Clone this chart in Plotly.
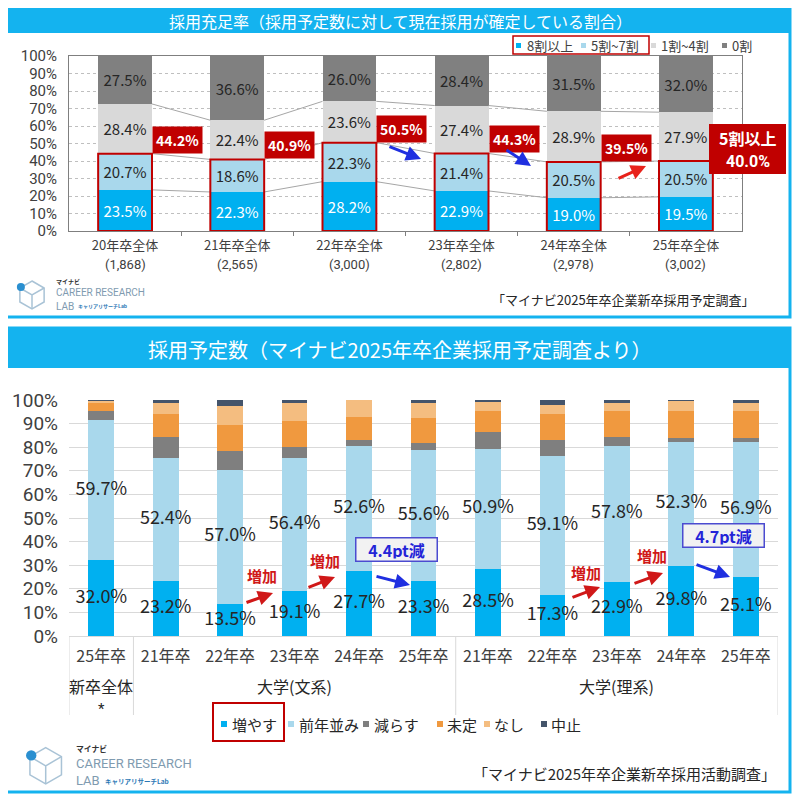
import math
import plotly.graph_objects as go

W = H = 800
OFF = 8  # the page body margin shifts the figure by 8 px
FONT = "Noto Sans CJK JP"
NUMFONT = "Roboto"
DARK = "#262626"

# ---------------- data: top chart (採用充足率) ----------------
top_cats = ["20年卒全体", "21年卒全体", "22年卒全体", "23年卒全体", "24年卒全体", "25年卒全体"]
top_n = ["(1,868)", "(2,565)", "(3,000)", "(2,802)", "(2,978)", "(3,002)"]
top_series = ["8割以上", "5割~7割", "1割~4割", "0割"]
s_80 = [23.5, 22.3, 28.2, 22.9, 19.0, 19.5]
s_50 = [20.7, 18.6, 22.3, 21.4, 20.5, 20.5]
s_10 = [28.4, 22.4, 23.6, 27.4, 28.9, 27.9]
s_00 = [27.5, 36.6, 26.0, 28.4, 31.5, 32.0]
top_colors = ["#00b0f0", "#a9d8ec", "#d9d9d9", "#808080"]
top_text_colors = ["white", DARK, DARK, DARK]

# ---------------- data: bottom chart (採用予定数) ----------------
bot_years = ["25年卒", "21年卒", "22年卒", "23年卒", "24年卒", "25年卒",
             "21年卒", "22年卒", "23年卒", "24年卒", "25年卒"]
bot_groups = ["新卒全体", "大学(文系)", "大学(理系)"]
bot_group_members = [[0], [1, 2, 3, 4, 5], [6, 7, 8, 9, 10]]
bot_series = ["増やす", "前年並み", "減らす", "未定", "なし", "中止"]
b_inc = [32.0, 23.2, 13.5, 19.1, 27.7, 23.3, 28.5, 17.3, 22.9, 29.8, 25.1]
b_same = [59.7, 52.4, 57.0, 56.4, 52.6, 55.6, 50.9, 59.1, 57.8, 52.3, 56.9]
b_dec = [3.8, 8.8, 8.0, 4.7, 2.8, 2.7, 6.9, 6.7, 3.5, 1.7, 1.8]
b_und = [3.3, 9.5, 10.9, 10.9, 9.8, 10.6, 9.2, 10.8, 11.1, 11.5, 11.5]
b_none = [1.0, 5.0, 8.2, 7.5, 7.1, 6.7, 3.7, 4.0, 3.6, 4.4, 3.3]
b_stop = [0.2, 1.1, 2.4, 1.4, 0.0, 1.1, 0.8, 2.1, 1.1, 0.3, 1.4]
bot_colors = ["#00b0f0", "#a9d8ec", "#7f7f7f", "#f0993f", "#f4bd80", "#44546a"]

# ---------------- geometry helpers (screen pixel -> paper) ----------------
def xp(x):
    return (x - OFF) / W


def yp(y):
    return 1 - (y - OFF) / H


TOP_L, TOP_R, TOP_T, TOP_B = 69, 742, 56, 231
BOT_L, BOT_R, BOT_T, BOT_B = 69, 778, 400, 636


def tx(x):  # screen pixel -> top data x
    return (x - TOP_L) / ((TOP_R - TOP_L) / 6) - 0.5


def ty(y):
    return (TOP_B - y) / ((TOP_B - TOP_T) / 100)


def bx(x):
    return (x - BOT_L) / ((BOT_R - BOT_L) / 11) - 0.5


def by(y):
    return (BOT_B - y) / ((BOT_B - BOT_T) / 100)


TW = 0.48  # top bar width
BW = 0.40  # bottom bar width

fig = go.Figure()

# ---------------- top bars ----------------
top_vals = [s_80, s_50, s_10, s_00]
xs_top = list(range(len(top_cats)))
for name, vals, col, tcol in zip(top_series, top_vals, top_colors, top_text_colors):
    fig.add_trace(go.Bar(
        x=xs_top, y=vals, name=name, width=TW, marker=dict(color=col, line=dict(width=0)),
        text=[f"{v:.1f}%" for v in vals], textposition="inside", insidetextanchor="middle",
        textangle=0, constraintext="none",
        textfont=dict(size=15, color=tcol, family=FONT),
        xaxis="x", yaxis="y", showlegend=False, hoverinfo="skip"))

# ---------------- bottom bars ----------------
bot_vals = [b_inc, b_same, b_dec, b_und, b_none, b_stop]
xs_bot = list(range(len(bot_years)))
for name, vals, col in zip(bot_series, bot_vals, bot_colors):
    fig.add_trace(go.Bar(
        x=xs_bot, y=vals, name=name, width=BW, marker=dict(color=col, line=dict(width=0)),
        xaxis="x2", yaxis="y2", showlegend=False, hoverinfo="skip"))

# bottom data labels (増やす, 前年並み) centred in segments
fig.add_trace(go.Scatter(
    x=xs_bot, y=[v / 2 for v in b_inc], mode="text",
    text=[f"{v:.1f}%" for v in b_inc], textfont=dict(size=18, color=DARK, family=FONT),
    xaxis="x2", yaxis="y2", showlegend=False, hoverinfo="skip", cliponaxis=False))
fig.add_trace(go.Scatter(
    x=xs_bot, y=[a + b / 2 for a, b in zip(b_inc, b_same)], mode="text",
    text=[f"{v:.1f}%" for v in b_same], textfont=dict(size=18, color=DARK, family=FONT),
    xaxis="x2", yaxis="y2", showlegend=False, hoverinfo="skip", cliponaxis=False))

shapes = []
ann = []


def ptext(text, x, y, size, color=DARK, xanchor="center", yanchor="middle", family=FONT):
    ann.append(dict(text=text, x=xp(x), y=yp(y), xref="paper", yref="paper",
                    xanchor=xanchor, yanchor=yanchor, showarrow=False,
                    font=dict(size=size, color=color, family=family)))


def prect(x0, y0, x1, y1, fill=None, line_color=None, line_width=0, layer="above"):
    d = dict(type="rect", xref="paper", yref="paper", x0=xp(x0), x1=xp(x1),
             y0=yp(y1), y1=yp(y0), layer=layer,
             line=dict(color=line_color or "rgba(0,0,0,0)", width=line_width))
    if fill:
        d["fillcolor"] = fill
    shapes.append(d)


# ---------------- panels ----------------
PANEL = "#14b3ef"
for (y0, y1, ybar) in [(4, 317, 33), (328, 792, 368)]:
    prect(5, y0, 790, ybar, fill=PANEL, layer="below")
    prect(5, y0, 790, y1, line_color=PANEL, line_width=3)

ptext("採用充足率（採用予定数に対して現在採用が確定している割合）", 400, 21, 16, "white")
ptext("採用予定数（マイナビ2025年卒企業採用予定調査より）", 400, 349, 20, "white")

# ---------------- top chart decorations ----------------
cum = []
run = [0] * 6
for vals in top_vals:
    run = [r + v for r, v in zip(run, vals)]
    cum.append(run[:])
# series connector lines
for k in range(3):
    for i in range(5):
        shapes.append(dict(type="line", xref="x", yref="y", x0=i + TW / 2, x1=i + 1 - TW / 2,
                           y0=cum[k][i], y1=cum[k][i + 1], line=dict(color="#a6a6a6", width=1)))
# sample sizes under the category names
for i, n in enumerate(top_n):
    ann.append(dict(text=n, x=i, y=yp(264), xref="x", yref="paper", xanchor="center",
                    yanchor="middle", showarrow=False,
                    font=dict(size=13, color="#404040", family=NUMFONT)))
# red outline around 5割以上 portion and sum boxes
RED = "#c00000"
sums = [a + b for a, b in zip(s_80, s_50)]
for i, s in enumerate(sums):
    shapes.append(dict(type="rect", xref="x", yref="y", x0=i - TW / 2, x1=i + TW / 2, y0=0, y1=s,
                       line=dict(color=RED, width=2), layer="above"))
    if i < len(sums) - 1:
        ann.append(dict(text=f"<b>{s:.1f}%</b>", x=i + TW / 2, y=s, xref="x", yref="y",
                        xanchor="left", yanchor="bottom", showarrow=False, bgcolor=RED,
                        borderpad=3, font=dict(size=14, color="white", family=FONT)))
    else:
        prect(709, 124, 786, 174, fill=RED)
        ptext("<b>5割以上</b>", 747.5, 138, 16, "white")
        ptext(f"<b>{s:.1f}%</b>", 747.5, 161, 16, "white", family=NUMFONT)

# top arrows
for (x0, y0, x1, y1, col) in [(388, 146, 421, 159, "#1f2fe0"), (505, 149, 531, 166, "#1f2fe0"),
                              (617, 179, 646, 166, "#e8221b")]:
    ann.append(dict(x=tx(x1), y=ty(y1), ax=tx(x0), ay=ty(y0), xref="x", yref="y",
                    axref="x", ayref="y", text="", showarrow=True, arrowhead=2,
                    arrowsize=1, arrowwidth=3, arrowcolor=col))

# top legend (manual)
top_leg_pos = [(516, 525), (581, 589), (651, 659), (722, 730)]
for (sqx, tx0), name, col in zip(top_leg_pos, top_series, top_colors):
    prect(sqx, 43, sqx + 5, 48, fill=col)
    ptext(name, tx0, 45, 13, "#404040", xanchor="left")
prect(513, 36, 649, 54, line_color=RED, line_width=1.5)

# ---------------- bottom chart decorations ----------------
for xb in [-0.5, 0.5, 5.5, 10.5]:
    shapes.append(dict(type="line", xref="x2", yref="paper", x0=xb, x1=xb,
                       y0=yp(BOT_B), y1=yp(715), line=dict(color="#d9d9d9", width=1)))
for g, members in zip(bot_groups, bot_group_members):
    gx = sum(members) / len(members)
    ann.append(dict(text=g, x=gx, y=yp(686), xref="x2", yref="paper", xanchor="center",
                    yanchor="middle", showarrow=False, font=dict(size=16, color=DARK, family=FONT)))
ann.append(dict(text="*", x=0, y=yp(709), xref="x2", yref="paper", xanchor="center",
                yanchor="middle", showarrow=False, font=dict(size=15, color=DARK, family=NUMFONT)))

# bottom annotation boxes
BLUE = "#2424d8"
for (cx, cy, txt) in [(396, 549, "4.4pt減"), (723, 535, "4.7pt減")]:
    ann.append(dict(text=f"<b>{txt}</b>", x=bx(cx), y=by(cy), xref="x2", yref="y2",
                    xanchor="center", yanchor="middle",
                    showarrow=False, bgcolor="#f2f2f2", bordercolor="#4b4bd0", borderwidth=1.5,
                    width=76, height=18, borderpad=2,
                    font=dict(size=16, color=BLUE, family=FONT)))
for (cx, cy) in [(262, 575), (325, 560), (586, 572), (652, 555)]:
    ann.append(dict(text="<b>増加</b>", x=bx(cx), y=by(cy), xref="x2", yref="y2",
                    xanchor="center", yanchor="middle",
                    showarrow=False, font=dict(size=15, color="#d01818", family=FONT)))
for (x0, y0, x1, y1, col) in [(245, 603, 273, 593, "#d01818"), (307, 588, 335, 577, "#d01818"),
                              (571, 598, 600, 587, "#d01818"), (633, 584, 663, 573, "#d01818"),
                              (375, 576, 410, 585, "#1f2fe0"), (695, 564, 730, 577, "#1f2fe0")]:
    ann.append(dict(x=bx(x1), y=by(y1), ax=bx(x0), ay=by(y0), xref="x2", yref="y2",
                    axref="x2", ayref="y2", text="", showarrow=True, arrowhead=2,
                    arrowsize=1, arrowwidth=3, arrowcolor=col))

# bottom legend (manual)
bot_leg_pos = [(221, 230), (288, 297), (363, 372), (437, 445), (484, 492), (541, 549)]
for (sqx, tx0), name, col in zip(bot_leg_pos, bot_series, bot_colors):
    prect(sqx, 721, sqx + 6, 727, fill=col)
    ptext(name, tx0, 724, 15, DARK, xanchor="left")
prect(213, 703, 284, 741, line_color=RED, line_width=2)

# ---------------- sources ----------------
ptext("「マイナビ2025年卒企業新卒採用予定調査」", 757, 299, 13, DARK, xanchor="right")
ptext("「マイナビ2025年卒企業新卒採用活動調査」", 778, 773, 15, DARK, xanchor="right")


# ---------------- logos ----------------
def P(x, y):
    return f"{xp(x):.5f},{yp(y):.5f}"


def logo(x0, y0, s):
    cx, cy, r = x0 + 19 * s, y0 + 16 * s, 14 * s
    pts = [(cx + r * math.cos(math.radians(a)), cy - r * math.sin(math.radians(a)))
           for a in [90, 30, -30, -90, -150, 150]]
    path = "M" + " L".join(P(*p) for p in pts) + " Z"
    shapes.append(dict(type="path", xref="paper", yref="paper", path=path,
                       line=dict(color="#a9c3d6", width=1.5)))
    inner = f"M{P(*pts[5])} L{P(cx, cy)} L{P(*pts[1])} M{P(cx, cy)} L{P(*pts[3])}"
    shapes.append(dict(type="path", xref="paper", yref="paper", path=inner,
                       line=dict(color="#a9c3d6", width=1.5)))
    dx, dy = pts[5][0] + 1 * s, pts[5][1] - 1 * s
    shapes.append(dict(type="circle", xref="paper", yref="paper", x0=xp(dx - 4 * s), x1=xp(dx + 4 * s),
                       y0=yp(dy + 4 * s), y1=yp(dy - 4 * s), fillcolor="#2a8fd0", line=dict(width=0)))
    t0 = x0 + 41 * s
    ptext("<b>マイナビ</b>", t0, y0 + 2.5 * s, 6 * s, "#333333", xanchor="left")
    ptext("CAREER RESEARCH", t0, y0 + 14 * s, 10 * s, "#7f9bb0", xanchor="left", family="Roboto")
    ptext("LAB", t0, y0 + 27 * s, 10 * s, "#7f9bb0", xanchor="left", family="Roboto")
    ptext("<b>キャリアリサーチLab</b>", t0 + 22 * s, y0 + 27.5 * s, 5 * s, "#2b78b5", xanchor="left")


logo(13, 279, 1.0)
logo(21, 745, 1.3)

# ---------------- layout ----------------
axis_font = dict(color="#404040")
fig.update_layout(
    width=W, height=H, margin=dict(l=0, r=0, t=0, b=0, pad=0, autoexpand=False),
    paper_bgcolor="white", plot_bgcolor="white", barmode="stack", showlegend=False,
    font=dict(family=FONT, color=DARK),
    xaxis=dict(domain=[xp(TOP_L), xp(TOP_R)], anchor="y", range=[-0.5, 5.5], automargin=False,
               tickmode="array", tickvals=xs_top, ticktext=top_cats,
               tickfont=dict(size=13, family=FONT, **axis_font), ticks="", showgrid=False,
               zeroline=False, showline=True, mirror=True, linecolor="#7f7f7f", linewidth=1,
               minor=dict(tickmode="array", tickvals=[i + 0.5 for i in range(5)], ticks="outside",
                          ticklen=4, tickcolor="#7f7f7f", showgrid=False),
               ticklabelstandoff=2, fixedrange=True),
    yaxis=dict(domain=[yp(TOP_B), yp(TOP_T)], anchor="x", range=[0, 100], dtick=10, automargin=False,
               ticksuffix="%", tickfont=dict(size=15, family=NUMFONT, **axis_font), showgrid=True,
               gridcolor="#bfbfbf", griddash="dot", zeroline=False, showline=True, mirror=True,
               linecolor="#7f7f7f", linewidth=1, ticklabelstandoff=8, fixedrange=True),
    xaxis2=dict(domain=[xp(BOT_L), xp(BOT_R)], anchor="y2", range=[-0.5, 10.5], automargin=False,
                tickmode="array", tickvals=xs_bot, ticktext=bot_years,
                tickfont=dict(size=16, family=FONT, **axis_font), ticks="", showgrid=False,
                zeroline=False, showline=True, linecolor="#d9d9d9", linewidth=1,
                ticklabelstandoff=6, fixedrange=True),
    yaxis2=dict(domain=[yp(BOT_B), yp(BOT_T)], anchor="x2", range=[0, 100], dtick=10, automargin=False,
                ticksuffix="%", tickfont=dict(size=19, family=NUMFONT, **axis_font), showgrid=True,
                gridcolor="#d9d9d9", zeroline=False, showline=False, ticklabelstandoff=10,
                fixedrange=True),
    shapes=shapes, annotations=ann,
)

fig.write_html("out.html")
